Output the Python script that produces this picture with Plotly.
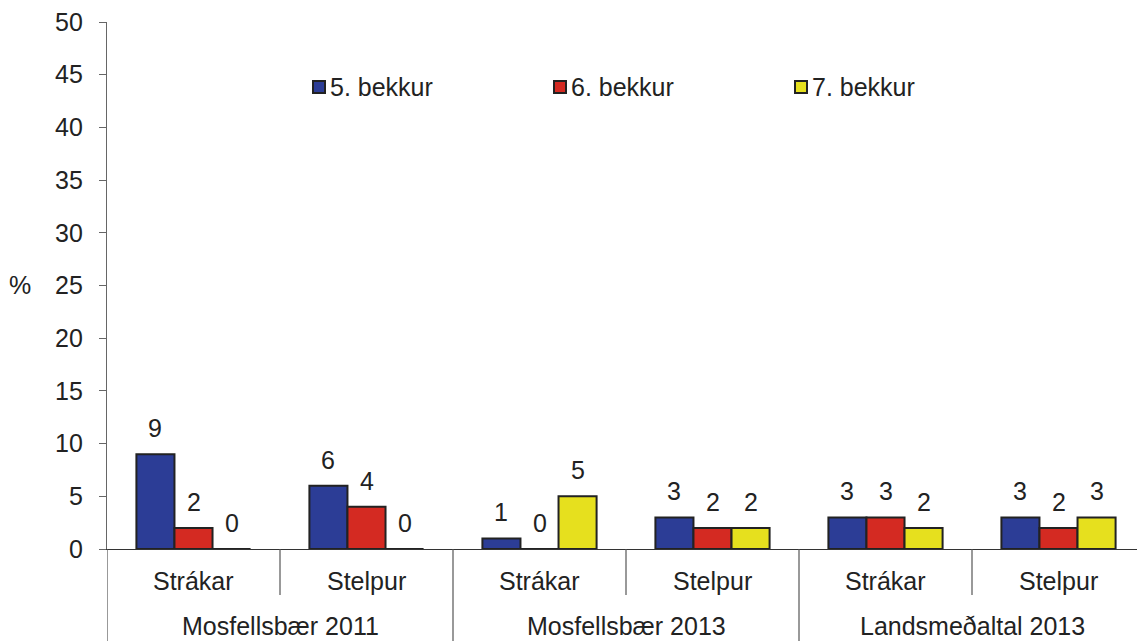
import plotly.graph_objects as go

# ---- data ----
genders = ["Strákar", "Stelpur", "Strákar", "Stelpur", "Strákar", "Stelpur"]
groups = ["Mosfellsbær 2011", "Mosfellsbær 2013", "Landsmeðaltal 2013"]
series_names = ["5. bekkur", "6. bekkur", "7. bekkur"]
bekkur5 = [9, 6, 1, 3, 3, 3]
bekkur6 = [2, 4, 0, 2, 3, 2]
bekkur7 = [0, 0, 5, 2, 2, 3]
y_ticks = [0, 5, 10, 15, 20, 25, 30, 35, 40, 45, 50]

# ---- layout geometry (page has an 8px body margin) ----
OFF = 8
PAGE_W, PAGE_H = 1145, 641
W, H = PAGE_W - OFF, PAGE_H - OFF
# plot area in page pixels: x 107..1145, y 22..549
ML, MR, MT = 107 - OFF, 0, 22 - OFF
MB = H - (549 - OFF)
PW, PH = W - ML - MR, H - MT - MB
colors = ["#2c3d96", "#d42a22", "#e6e01e"]
outline = "#222222"
FONT = "Liberation Sans, Arial, sans-serif"
FS = 25
BARGAP = 0.34
nser = 3
bw = (1 - BARGAP) / nser

xc = [i + 0.5 for i in range(len(genders))]
all_series = [bekkur5, bekkur6, bekkur7]

fig = go.Figure()
for name, vals, col in zip(series_names, all_series, colors):
    fig.add_trace(go.Bar(
        x=xc, y=vals, name=name,
        marker=dict(color=col, line=dict(color=outline, width=2)),
        showlegend=False,
    ))

annotations = []
# value labels
for k, vals in enumerate(all_series):
    off = (k - (nser - 1) / 2) * bw
    for xi, v in zip(xc, vals):
        annotations.append(dict(
            x=xi + off, y=v, xref="x", yref="y", text=str(v), showarrow=False,
            yanchor="middle", yshift=26, font=dict(size=FS, color="#222", family=FONT)))

def py2paper(py):  # page pixel y -> paper
    return (H - MB - (py - OFF)) / PH

def px2paper(px):  # page pixel x -> paper
    return ((px - OFF) - ML) / PW

# gender labels
for xi, g in zip(xc, genders):
    annotations.append(dict(x=xi, y=py2paper(581), xref="x", yref="paper", text=g,
                            showarrow=False, yanchor="middle",
                            font=dict(size=FS, color="#222", family=FONT)))
# group labels
for gi, g in enumerate(groups):
    annotations.append(dict(x=gi * 2 + 1, y=py2paper(626), xref="x", yref="paper", text=g,
                            showarrow=False, yanchor="middle",
                            font=dict(size=FS, color="#222", family=FONT)))
# % label
annotations.append(dict(x=px2paper(20), y=py2paper(285), xref="paper", yref="paper",
                        text="%", showarrow=False, xanchor="center", yanchor="middle",
                        font=dict(size=FS, color="#222", family=FONT)))

shapes = []
# separators
for b in range(0, len(genders) + 1):
    bottom = py2paper(PAGE_H) if b % 2 == 0 else py2paper(595)
    shapes.append(dict(type="line", xref="x", yref="paper", x0=b, x1=b, y0=0, y1=bottom,
                       line=dict(color="#555", width=1.2)))

# custom legend
leg_x = [313, 554, 795]
leg_y = 87
for name, col, lx in zip(series_names, colors, leg_x):
    shapes.append(dict(type="rect", xref="paper", yref="paper",
                       x0=px2paper(lx), x1=px2paper(lx + 12),
                       y0=py2paper(leg_y + 6), y1=py2paper(leg_y - 6),
                       fillcolor=col, line=dict(color=outline, width=2)))
    annotations.append(dict(x=px2paper(lx + 15), y=py2paper(leg_y), xref="paper", yref="paper",
                            text=name, showarrow=False, xanchor="left", yanchor="middle",
                            font=dict(size=FS, color="#222", family=FONT)))

fig.update_layout(
    width=W, height=H,
    margin=dict(l=ML, r=MR, t=MT, b=MB, autoexpand=False),
    paper_bgcolor="white", plot_bgcolor="white",
    barmode="group", bargap=BARGAP, bargroupgap=0,
    font=dict(family=FONT, size=FS, color="#222"),
    xaxis=dict(range=[0, len(genders)], showticklabels=False, showgrid=False, zeroline=False,
               showline=True, linecolor="#333", linewidth=1.2, ticks=""),
    yaxis=dict(range=[0, 50], tickvals=y_ticks, showgrid=False, zeroline=False,
               showline=True, linecolor="#666", linewidth=1.2, ticks="outside", ticklen=7,
               tickcolor="#666", ticklabelstandoff=11, ticklabeloverflow="allow",
               tickfont=dict(size=FS, color="#222")),
    annotations=annotations,
    shapes=shapes,
)

fig.write_html("out.html")
